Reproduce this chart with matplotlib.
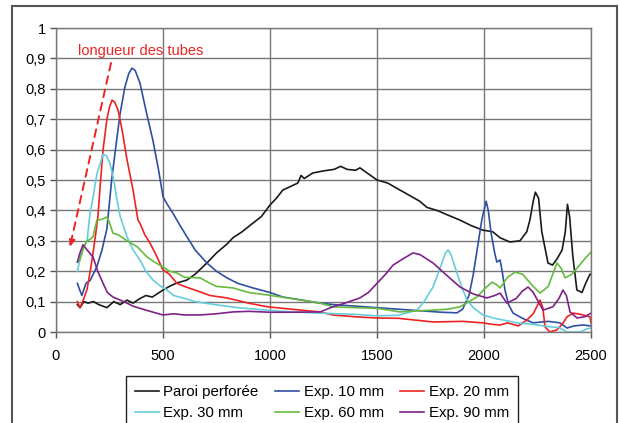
import matplotlib
matplotlib.use("Agg")
import matplotlib.pyplot as plt
from matplotlib.patches import Rectangle

plt.rcParams['font.family'] = ['Liberation Sans', 'DejaVu Sans']

paroi_x = [100,112,130,150,175,200,238,270,300,332,360,392,420,450,500,530,560,612,650,705,750,800,827,870,920,960,
           1000,1030,1060,1100,1130,1145,1160,1200,1250,1300,1330,1360,1400,1420,1450,1500,1550,1607,1650,1700,1733,1780,
           1830,1888,1940,1995,2040,2075,2121,2168,2200,2215,2230,2240,2255,2270,2299,2320,2341,2365,2380,2390,2400,
           2415,2434,2458,2475,2495,2500]
paroi_y = [0.09,0.08,0.1,0.095,0.1,0.09,0.08,0.1,0.09,0.105,0.095,0.11,0.12,0.115,0.138,0.15,0.16,0.171,0.19,0.227,
           0.26,0.29,0.31,0.33,0.358,0.38,0.418,0.44,0.467,0.48,0.49,0.515,0.505,0.523,0.53,0.535,0.545,0.535,0.532,
           0.54,0.525,0.5,0.49,0.467,0.45,0.43,0.41,0.4,0.385,0.368,0.35,0.335,0.33,0.31,0.296,0.30,0.33,0.37,0.43,
           0.46,0.44,0.33,0.227,0.22,0.24,0.27,0.33,0.42,0.38,0.25,0.138,0.13,0.16,0.19,0.19]

e10_x = [100,110,121,140,160,191,215,238,260,285,300,322,340,355,370,392,420,453,480,500,520,547,580,612,650,705,750,
         799,850,920,1000,1060,1150,1234,1300,1400,1500,1600,1700,1800,1874,1900,1930,1950,1970,1990,2010,2020,2033,
         2050,2060,2075,2085,2098,2115,2136,2180,2229,2300,2355,2388,2420,2463,2500]
e10_y = [0.16,0.14,0.12,0.16,0.17,0.215,0.27,0.34,0.5,0.64,0.72,0.806,0.85,0.868,0.86,0.82,0.73,0.63,0.53,0.445,0.42,
         0.39,0.35,0.313,0.27,0.227,0.2,0.178,0.16,0.145,0.13,0.115,0.105,0.095,0.09,0.085,0.08,0.075,0.07,0.065,0.063,
         0.075,0.12,0.19,0.28,0.37,0.43,0.4,0.326,0.26,0.23,0.237,0.2,0.138,0.09,0.062,0.045,0.03,0.035,0.03,0.013,
         0.02,0.023,0.02]

e20_x = [100,112,130,145,160,173,185,196,206,220,238,250,262,275,290,310,332,360,383,392,415,439,470,500,530,565,600,
         673,720,799,900,986,1100,1234,1294,1400,1500,1600,1762,1900,1995,2040,2075,2110,2160,2201,2230,2262,2275,2285,
         2308,2341,2370,2388,2416,2440,2463,2495,2500]
e20_y = [0.1,0.08,0.11,0.14,0.2,0.26,0.32,0.38,0.477,0.6,0.70,0.74,0.763,0.755,0.73,0.66,0.566,0.467,0.368,0.358,0.32,
         0.293,0.25,0.204,0.19,0.16,0.15,0.132,0.12,0.112,0.095,0.083,0.075,0.066,0.056,0.05,0.046,0.045,0.033,0.035,
         0.03,0.025,0.023,0.03,0.02,0.04,0.06,0.105,0.08,0.017,0.0,0.007,0.03,0.05,0.062,0.06,0.056,0.05,0.03]

e30_x = [100,115,130,145,159,175,191,205,220,235,252,270,285,300,332,360,392,420,453,480,518,550,593,650,752,850,986,
         1100,1234,1400,1500,1600,1687,1720,1762,1800,1820,1832,1845,1874,1900,1921,1950,1995,2050,2100,2154,2230,2308,
         2350,2388,2449,2480,2500]
e30_y = [0.2,0.25,0.28,0.3,0.39,0.45,0.52,0.55,0.585,0.58,0.555,0.5,0.435,0.38,0.313,0.27,0.237,0.2,0.171,0.155,0.138,
         0.12,0.112,0.1,0.089,0.08,0.072,0.066,0.062,0.058,0.053,0.055,0.072,0.1,0.148,0.22,0.26,0.27,0.255,0.194,0.14,
         0.105,0.08,0.056,0.045,0.038,0.03,0.025,0.017,0.015,0.0,0.0,0.01,0.013]

e60_x = [100,112,130,145,160,173,191,210,238,250,266,290,332,380,425,460,500,530,565,600,673,720,750,827,900,986,1100,
         1234,1294,1400,1500,1607,1700,1762,1830,1888,1930,1967,2000,2037,2060,2075,2110,2145,2180,2230,2262,2300,2341,
         2360,2379,2410,2435,2470,2500]
e60_y = [0.23,0.237,0.28,0.30,0.305,0.313,0.368,0.37,0.378,0.36,0.325,0.32,0.30,0.28,0.247,0.23,0.214,0.2,0.194,0.18,
         0.178,0.16,0.15,0.145,0.13,0.122,0.11,0.095,0.083,0.08,0.078,0.066,0.07,0.072,0.075,0.083,0.1,0.115,0.14,0.164,
         0.155,0.145,0.18,0.197,0.19,0.15,0.128,0.15,0.227,0.21,0.178,0.19,0.21,0.24,0.263]

e90_x = [100,112,126,145,173,195,220,240,266,300,332,360,392,430,500,550,600,673,750,827,900,1000,1100,1234,1294,1350,
         1420,1460,1500,1540,1575,1620,1668,1700,1762,1820,1888,1950,2014,2050,2075,2107,2150,2180,2206,2230,2276,2322,
         2350,2369,2385,2402,2435,2470,2500]
e90_y = [0.23,0.26,0.287,0.27,0.247,0.2,0.16,0.13,0.115,0.105,0.095,0.085,0.078,0.07,0.056,0.06,0.056,0.056,0.06,0.066,
         0.068,0.065,0.065,0.066,0.083,0.095,0.112,0.13,0.16,0.19,0.22,0.24,0.26,0.255,0.227,0.19,0.148,0.125,0.112,
         0.12,0.128,0.095,0.11,0.135,0.148,0.13,0.072,0.083,0.11,0.138,0.12,0.066,0.046,0.05,0.062]

labels = ["Paroi perforée", "Exp. 10 mm", "Exp. 20 mm", "Exp. 30 mm", "Exp. 60 mm", "Exp. 90 mm"]
colors = ["#1a1a1a", "#2f4fa2", "#ee2222", "#66cddc", "#66bb3f", "#7f2189"]
xticks = [0, 500, 1000, 1500, 2000, 2500]
yticks = [0, 0.1, 0.2, 0.3, 0.4, 0.5, 0.6, 0.7, 0.8, 0.9, 1]
ytick_labels = ["0", "0,1", "0,2", "0,3", "0,4", "0,5", "0,6", "0,7", "0,8", "0,9", "1"]
annot_text = "longueur des tubes"

fig = plt.figure(figsize=(6.19, 4.23), dpi=100)
ax = fig.add_axes([56/619, 1-332/423, (591-56)/619, (332-28)/423])

series = [(paroi_x, paroi_y), (e10_x, e10_y), (e20_x, e20_y), (e30_x, e30_y), (e60_x, e60_y), (e90_x, e90_y)]
handles = []
for (xs, ys), lab, c in zip(series, labels, colors):
    h, = ax.plot(xs, ys, color=c, lw=1.2, label=lab)
    handles.append(h)

ax.set_xlim(0, 2500)
ax.set_ylim(0, 1)
ax.set_xticks(xticks)
ax.set_xticklabels([str(v) for v in xticks])
ax.set_yticks(yticks)
ax.set_yticklabels(ytick_labels)
ax.tick_params(labelsize=10.5, color="#555555", length=4, width=1)
ax.tick_params(axis='x', pad=8)
ax.grid(True, color="#777777", lw=1)
ax.set_axisbelow(True)
for s in ax.spines.values():
    s.set_color("#777777")
    s.set_linewidth(1)

ax.annotate("", xy=(65, 0.28), xytext=(257, 0.885),
            arrowprops=dict(arrowstyle="-|>", color="#ee2222", lw=1.4, linestyle=(0, (4, 3)),
                            mutation_scale=10, shrinkA=0, shrinkB=0))
ax.text(103, 0.924, annot_text, color="#ee2222", fontsize=10.5, va="center", ha="left")

order = [0, 3, 1, 4, 2, 5]
leg = fig.legend([handles[i] for i in order], [labels[i] for i in order], ncol=3,
                 loc="upper center", bbox_to_anchor=(322/619, 1-376/423), fontsize=10.8,
                 frameon=True, fancybox=False, edgecolor="#222222", framealpha=1,
                 handlelength=1.6, columnspacing=1.1, handletextpad=0.3, labelspacing=0.45,
                 borderpad=0.6, borderaxespad=0)
leg.get_frame().set_linewidth(1)

fig.patches.append(Rectangle((12/619, -0.1), (617-12)/619, 1-6/423+0.1, transform=fig.transFigure,
                             fill=False, edgecolor="#555555", lw=1.5))

fig.savefig("out.png", dpi=100)
